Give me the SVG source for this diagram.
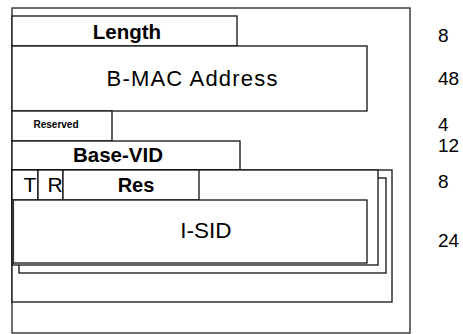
<svg xmlns="http://www.w3.org/2000/svg" width="463" height="334" viewBox="0 0 463 334">
<style>
.box{fill:#fff;stroke:#111;stroke-width:1.3}
.frame{fill:none;stroke:#222;stroke-width:1.3}
.t{font-family:"Liberation Sans",Arial,sans-serif;fill:#000}
.b{font-weight:bold}
.num{font-family:"Liberation Sans",Arial,sans-serif;font-size:19px;fill:#000}
</style>
<rect width="463" height="334" fill="#fff"/>
<g id="frame"><rect class="frame" x="12" y="8" width="398" height="325"/></g>
<g id="length"><rect class="box" x="12" y="16" width="225" height="30"/><text class="t b" x="127" y="39" font-size="20.5" text-anchor="middle">Length</text></g>
<g id="bmac"><rect class="box" x="12" y="46" width="355" height="65"/><text class="t" x="192" y="86" font-size="22" text-anchor="middle" textLength="171" lengthAdjust="spacing">B-MAC Address</text></g>
<g id="reserved"><rect class="box" x="12" y="111" width="100" height="30"/><text class="t b" x="56" y="128" font-size="10" text-anchor="middle">Reserved</text></g>
<g id="basevid"><rect class="box" x="12" y="141" width="228" height="29"/><text class="t b" x="118" y="162" font-size="20.5" text-anchor="middle">Base-VID</text></g>
<g id="itag-stack">
<rect class="box" x="12" y="170" width="380" height="132"/>
<rect class="box" x="19" y="178" width="367" height="95"/>
<rect class="box" x="12" y="170" width="366" height="95"/>
</g>
<g id="t"><rect class="box" x="12" y="170" width="26" height="30"/><text class="t" x="30" y="192" font-size="21" text-anchor="middle">T</text></g>
<g id="r"><rect class="box" x="38" y="170" width="25" height="30"/><text class="t" x="55" y="192" font-size="21" text-anchor="middle">R</text></g>
<g id="res"><rect class="box" x="63" y="170" width="136" height="30"/><text class="t b" x="136" y="192" font-size="20" text-anchor="middle">Res</text></g>
<g id="isid"><rect class="box" x="12.5" y="200" width="354.5" height="63"/><line x1="13" y1="200" x2="13" y2="264" stroke="#333" stroke-width="2.2"/><text class="t" x="206" y="238" font-size="22.5" text-anchor="middle">I-SID</text></g>
<g id="sizes">
<text class="num" x="438" y="42">8</text>
<text class="num" x="438" y="85">48</text>
<text class="num" x="438" y="131">4</text>
<text class="num" x="438" y="152">12</text>
<text class="num" x="438" y="188">8</text>
<text class="num" x="438" y="247">24</text>
</g>
<g id="connectors"></g>
</svg>
